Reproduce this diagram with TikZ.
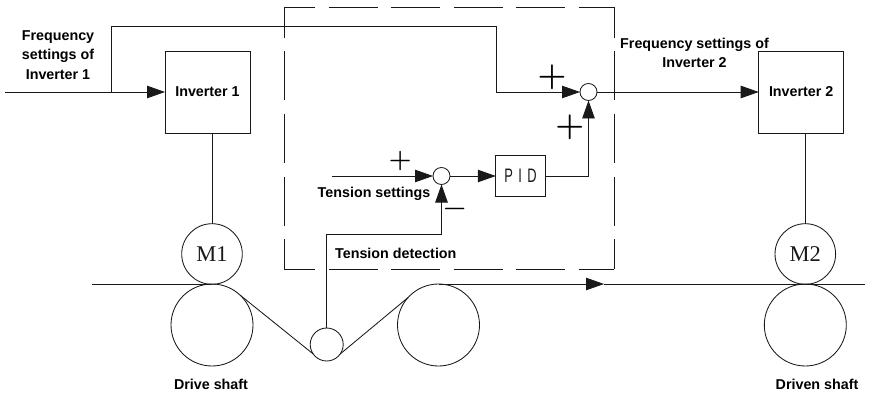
\documentclass[tikz,border=0pt]{standalone}
\usepackage{fontspec}
\setsansfont{Liberation Sans}
\newfontfamily\serifM{Liberation Serif}
\newfontfamily\pidfont[LetterSpace=42]{Liberation Sans}
\usetikzlibrary{arrows.meta}
\tikzset{
  x=1pt,y=-1pt,
  wire/.style={line width=0.85pt,color=black!90},
  flow/.style={wire,-{Triangle[length=18pt,width=12.5pt]}},
  blockbox/.style={draw,wire,inner sep=0pt,outer sep=0pt},
  junction/.style={circle,draw,wire,fill=white,minimum size=17pt,inner sep=0pt,outer sep=0pt},
  roller/.style={circle,draw,wire,inner sep=0pt,outer sep=0pt},
  lab/.style={font=\sffamily\bfseries\fontsize{14.3}{19.5}\selectfont,align=center,inner sep=0pt,text=black},
  motorlab/.style={font=\serifM\fontsize{22.5}{24}\selectfont},
  signbig/.style={inner sep=0pt,font=\bfseries\fontsize{33}{33}\selectfont},
  signsmall/.style={inner sep=0pt,font=\bfseries\fontsize{26}{26}\selectfont},
  dashside/.style={line width=0.85pt,color=black!90,dash pattern=on 49pt off 13.5pt,dash phase=18pt}
}
\begin{document}
\begin{tikzpicture}
\useasboundingbox (0,0) rectangle (869,393);
% dashed frame
\coordinate (fa) at (284,7);
\coordinate (fb) at (614.3,7);
\coordinate (fc) at (614.3,269.3);
\coordinate (fd) at (284,269.3);
\draw[dashside] (fa) -- (fb);
\draw[dashside] (fb) -- (fc);
\draw[dashside] (fd) -- (fc);
\draw[dashside] (fa) -- (fd);
% blocks
\node[blockbox,minimum width=85pt,minimum height=82pt,lab] (inv1) at (207.5,92) {Inverter 1};
\node[blockbox,minimum width=85pt,minimum height=82pt,lab] (inv2) at (801.2,92) {Inverter 2};
\node[blockbox,minimum width=49.5pt,minimum height=40.5pt] (pid) at (520.5,176) {\scalebox{0.66}[1]{\pidfont\fontsize{19.5}{20}\selectfont PID}};
\node[junction] (j1) at (588.5,92) {};
\node[junction] (j2) at (441.5,176) {};
% rollers
\node[roller,minimum size=60.6pt,motorlab] (m1) at (212,254) {M1};
\node[roller,minimum size=60.6pt,motorlab] (m2) at (805.3,254) {M2};
\node[roller,minimum size=82pt] (r1) at (212,325) {};
\node[roller,minimum size=82pt] (r2) at (438.5,325) {};
\node[roller,minimum size=82pt] (r3) at (805.3,325) {};
\node[roller,minimum size=33pt] (dancer) at (326.7,344.5) {};
% free ends
\coordinate (in1) at (5,92);
\coordinate (ts) at (332,176);
\coordinate (web0) at (92,284);
\coordinate (web1) at (865,284);
\coordinate (webarrow) at (604,284);
\coordinate (split) at (111,92);
\coordinate (c1) at (111,26);
\coordinate (c2) at (496,26);
\coordinate (c3) at (496,92);
\coordinate (d1) at (441.5,234);
\coordinate (d2) at (326.7,234);
\coordinate (p1) at (588.5,176);
% connectors
\draw[flow] (in1) -- (inv1.west);
\draw[wire] (split) -- (c1) -- (c2) -- (c3);
\draw[flow] (c3) -- (j1.west);
\draw[flow] (j1.east) -- (inv2.west);
\draw[flow] (ts) -- (j2.west);
\draw[flow] (j2.east) -- (pid.west);
\draw[wire] (pid.east) -- (p1);
\draw[flow] (p1) -- (j1.south);
\draw[wire] (dancer.north) -- (d2) -- (d1);
\draw[flow] (d1) -- (j2.south);
\draw[wire] (inv1.south -| m1.north) -- (m1.north);
\draw[wire] (inv2.south -| m2.north) -- (m2.north);
% web
\draw[wire] (web0) -- (r1.north);
\draw[wire] (r1.47) -- (dancer.215);
\draw[wire] (dancer.-35) -- (r2.138);
\draw[flow] (r2.north) -- (webarrow);
\draw[wire] (webarrow) -- (web1);
% labels
\node[lab] (lf1) at (58,55) {Frequency\\settings of\\Inverter 1};
\node[lab] (lf2) at (694.5,53) {Frequency settings of\\Inverter 2};
\node[lab] (lts) at (374,194) {Tension settings};
\node[lab] (ltd) at (395.8,253) {Tension detection};
\node[lab] (lds) at (211,384) {Drive shaft};
\node[lab] (lrs) at (817,384) {Driven shaft};
\node[signbig] (s1) at (552,77) {+};
\node[signbig] (s2) at (569.7,127.7) {+};
\node[signsmall] (s3) at (400.3,161) {+};
\node[signsmall] (s4) at (454.7,212.2) {−};
\end{tikzpicture}
\end{document}
